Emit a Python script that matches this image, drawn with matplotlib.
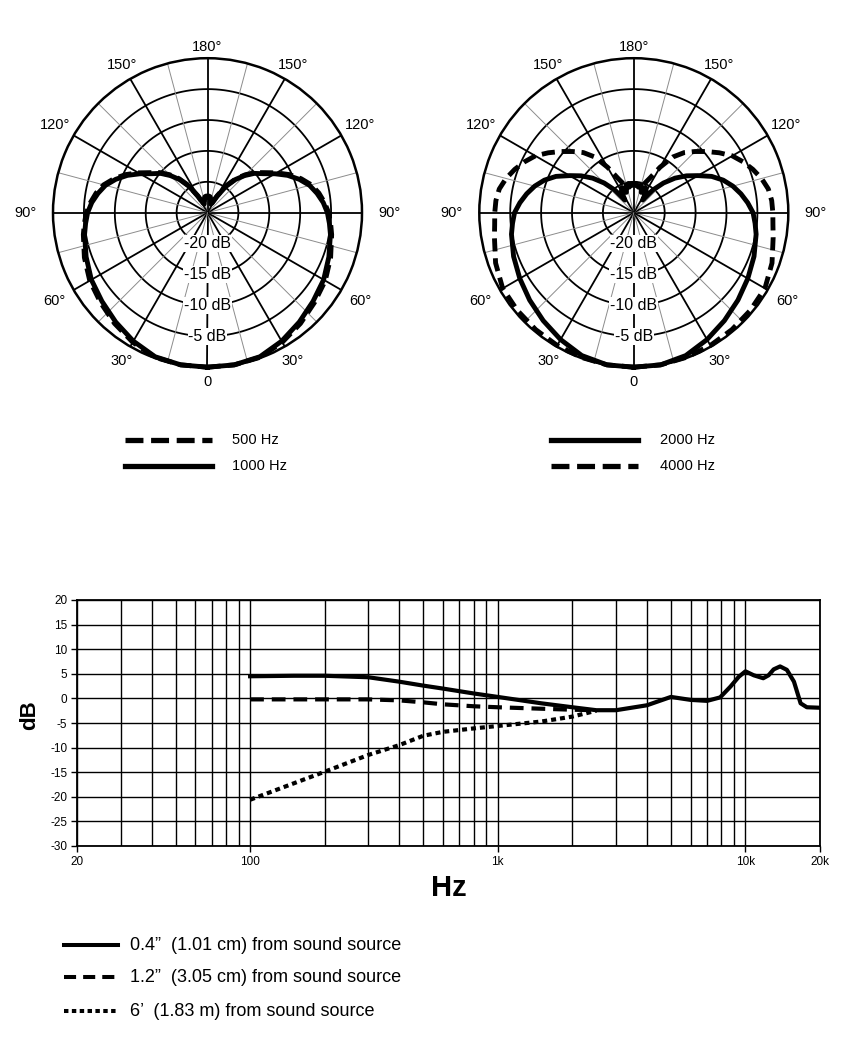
import numpy as np
import matplotlib.pyplot as plt
from matplotlib.ticker import LogLocator, FixedLocator, NullFormatter

plt.rcParams['font.family'] = ['Liberation Sans', 'DejaVu Sans']
plt.rcParams['axes.unicode_minus'] = False

W, H = 851, 1043

# ---- polar patterns: dB at 0..180 deg, other half is mirrored ----
ANGLES = np.array([0, 10, 20, 30, 40, 50, 60, 70, 80, 85, 90, 95, 100, 105, 110,
                   115, 120, 125, 130, 135, 140, 145, 150, 155, 160, 165, 170, 175, 180])
db_500  = [0, 0, -0.1, -0.8, -1.6, -2.4, -3.0, -3.8, -4.6, -5.0, -5.4, -6.0, -6.7,
           -7.6, -8.9, -10.4, -12.1, -13.7, -14.9, -16.3, -17.8, -19.6, -21.8, -23.3,
           -23.5, -23.0, -22.4, -22.3, -22.3]
db_1000 = [0, 0, -0.2, -1.0, -1.9, -2.7, -3.3, -4.1, -4.8, -5.2, -5.6, -6.2, -7.0,
           -7.9, -9.2, -10.7, -12.4, -14.0, -15.1, -16.5, -18.0, -19.8, -22.0, -23.3,
           -23.5, -23.0, -22.6, -22.5, -22.5]
db_2000 = [0, 0, -0.4, -1.3, -2.2, -3.0, -3.7, -4.3, -4.9, -5.3, -5.7, -6.5, -7.4,
           -8.4, -9.6, -11.1, -13.0, -14.6, -16.3, -18.2, -20.2, -22.5, -21.0, -20.5,
           -21.5, -20.3, -20.8, -20.3, -20.5]
db_4000 = [0, 0, -0.1, -0.2, -0.3, -0.4, -0.5, -1.2, -2.1, -2.4, -2.5, -2.6, -2.9,
           -3.6, -4.5, -5.5, -6.6, -8.1, -9.6, -11.0, -12.3, -14.0, -16.5, -18.8,
           -20.0, -20.5, -20.2, -20.6, -20.3]

ANGLE_LABELS = [(0, '0'), (30, '30°'), (60, '60°'), (90, '90°'), (120, '120°'),
                (150, '150°'), (180, '180°')]
RING_LEVELS = [-20, -15, -10, -5]

# ---- frequency response ----
f_near = [100, 150, 200, 300, 400, 500, 600, 800, 1000, 1500, 2000, 2500, 3000,
          4000, 5000, 6000, 7000, 7900, 8700, 9400, 10000, 10800, 11800, 12400,
          13000, 13800, 14700, 15700, 16700, 17700, 20000]
db_near = [4.5, 4.6, 4.6, 4.3, 3.4, 2.6, 2.0, 1.0, 0.3, -1.0, -1.8, -2.4, -2.4,
           -1.4, 0.3, -0.3, -0.5, 0.2, 2.4, 4.4, 5.5, 4.7, 4.1, 4.7, 5.9, 6.5,
           5.8, 3.4, -1.0, -1.8, -1.9]
f_mid = [100, 200, 300, 400, 500, 600, 800, 1000, 1500, 2000, 2500]
db_mid = [-0.2, -0.2, -0.2, -0.4, -0.8, -1.2, -1.6, -1.8, -2.1, -2.3, -2.4]
f_far = [100, 200, 300, 400, 500, 600, 800, 1000, 1500, 2000, 2500]
db_far = [-20.6, -14.9, -11.5, -9.5, -7.6, -6.8, -6.1, -5.6, -4.7, -3.7, -2.5]

FREQ_TICKS = [20, 100, 1000, 10000, 20000]
FREQ_LABELS = ['20', '100', '1k', '10k', '20k']

fig = plt.figure(figsize=(W / 100, H / 100), dpi=100)

# background axes in pixel coordinates (legends)
bg = fig.add_axes([0, 0, 1, 1])
bg.set_xlim(0, W); bg.set_ylim(H, 0); bg.axis('off')

DASH_POLAR = (2.7, 1.4)


def mirror(vals):
    vals = np.asarray(vals, float)
    th = np.radians(np.concatenate([ANGLES, 360 - ANGLES[::-1][1:]]))
    return th, np.concatenate([vals, vals[::-1][1:]])


def polar_panel(cx, cy, curves):
    R = 154.5
    ax = fig.add_axes([(cx - R) / W, (H - cy - R) / H, 2 * R / W, 2 * R / H],
                      projection='polar')
    ax.set_theta_zero_location('S')
    ax.set_ylim(-25, 0)
    ax.set_xticks([]); ax.set_yticks([])
    ax.grid(False)
    ax.spines['polar'].set_linewidth(1.8)
    t = np.linspace(0, 2 * np.pi, 361)
    for lev in RING_LEVELS:
        ax.plot(t, np.full_like(t, lev), color='black', lw=1.3, zorder=1)
    for a in range(0, 360, 15):
        major = a % 30 == 0
        ax.plot([np.radians(a)] * 2, [-25, 0], color='black' if major else '#8c8c8c',
                lw=1.3 if major else 0.7, zorder=1)
    for lev in RING_LEVELS:
        ax.text(0, lev, f'{lev} dB', ha='center', va='center', fontsize=11.5, zorder=3,
                bbox=dict(fc='white', ec='none', pad=0.6))
    rpx = {0: 169, 30: 171, 60: 177, 90: 182, 120: 176, 150: 171, 180: 166}
    for a, s in ANGLE_LABELS:
        r = -25 + rpx[a] / R * 25
        for sgn in ([1] if a in (0, 180) else [1, -1]):
            ax.text(np.radians(sgn * a), r, s, ha='center', va='center',
                    fontsize=10.5, clip_on=False)
    for vals, style in curves:
        th, r = mirror(vals)
        if style == 'dash':
            ax.plot(th, r, color='black', lw=3.5, dashes=DASH_POLAR, zorder=4,
                    clip_on=False)
        else:
            ax.plot(th, r, color='black', lw=3.5, zorder=4, clip_on=False,
                    solid_joinstyle='round')
    return ax


polar_panel(207.5, 212.7, [(db_1000, 'solid'), (db_500, 'dash')])
polar_panel(633.8, 212.7, [(db_2000, 'solid'), (db_4000, 'dash')])

# polar legends
bg.plot([125, 212], [440, 440], color='black', lw=3.8, dashes=(3.4, 1.45))
bg.plot([125, 212], [466, 466], color='black', lw=3.8)
bg.text(232, 440, '500 Hz', va='center', fontsize=10.5)
bg.text(232, 466, '1000 Hz', va='center', fontsize=10.5)
bg.plot([551, 638], [440, 440], color='black', lw=3.8)
bg.plot([551, 638], [466, 466], color='black', lw=3.8, dashes=(3.4, 1.45))
bg.text(660, 440, '2000 Hz', va='center', fontsize=10.5)
bg.text(660, 466, '4000 Hz', va='center', fontsize=10.5)

# frequency response
ax = fig.add_axes([77 / W, (H - 846) / H, 743 / W, 246 / H])
ax.set_xscale('log')
ax.set_xlim(20, 20000)
ax.set_ylim(-30, 20)
ax.set_yticks(range(-30, 25, 5))
ax.xaxis.set_major_locator(FixedLocator(FREQ_TICKS))
ax.set_xticklabels(FREQ_LABELS)
ax.xaxis.set_minor_locator(LogLocator(base=10, subs=np.arange(1, 10), numticks=20))
ax.xaxis.set_minor_formatter(NullFormatter())
ax.grid(which='both', color='black', lw=1.0)
ax.tick_params(which='minor', length=0)
ax.tick_params(which='major', length=4, width=1, labelsize=8.5, pad=3)
for s in ax.spines.values():
    s.set_linewidth(1.3)
ax.plot(f_near, db_near, color='black', lw=3.0, solid_joinstyle='round', zorder=4)
ax.plot(f_mid, db_mid, color='black', lw=3.0, dashes=(3.3, 1.9), zorder=4)
ax.plot(f_far, db_far, color='black', lw=3.0, dashes=(1.2, 0.95), zorder=4)
ax.set_xlabel('Hz', fontsize=21, fontweight='bold', va='center')
ax.xaxis.set_label_coords((449 - 77) / 743, (846 - 888) / 246)
ax.set_ylabel('dB', fontsize=16, fontweight='bold', va='center')
ax.yaxis.set_label_coords((30 - 77) / 743, (846 - 715) / 246)

# frequency response legend
bg.plot([64, 118], [945, 945], color='black', lw=2.9)
bg.plot([64, 118], [977, 977], color='black', lw=2.9, dashes=(3.0, 1.75))
bg.plot([64, 118], [1011, 1011], color='black', lw=2.9, dashes=(1.1, 0.85))
bg.text(130, 945, '0.4”  (1.01 cm) from sound source', va='center', fontsize=13)
bg.text(130, 977, '1.2”  (3.05 cm) from sound source', va='center', fontsize=13)
bg.text(130, 1011, '6’  (1.83 m) from sound source', va='center', fontsize=13)

fig.savefig('out.png', dpi=100)
